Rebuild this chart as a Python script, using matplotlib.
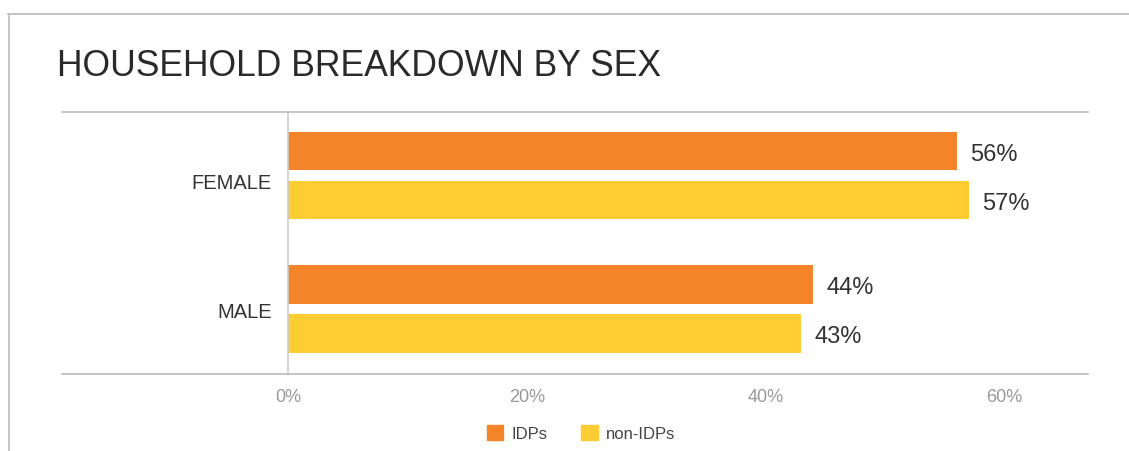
import matplotlib
matplotlib.use("Agg")
import matplotlib.pyplot as plt
from matplotlib.lines import Line2D
from matplotlib.patches import Patch
import numpy as np

categories = ["MALE", "FEMALE"]
idps = [44, 56]
non_idps = [43, 57]
series_names = ["IDPs", "non-IDPs"]
tick_values = [0, 20, 40, 60]

orange = "#F4842A"
yellow = "#FDCD33"
line_grey = "#BBBBBB"

W, H = 1129, 452
fig = plt.figure(figsize=(W / 100, H / 100), dpi=100)
plt.rcParams["font.family"] = ["Liberation Sans", "DejaVu Sans"]

# outer frame (top + left edges only)
fig.add_artist(Line2D([8 / W, 1], [1 - 15 / H, 1 - 15 / H], color=line_grey, lw=1.2))
fig.add_artist(Line2D([9 / W, 9 / W], [1 - 15 / H, 0], color=line_grey, lw=1.2))

# horizontal rules above and below the plot
for y in (113, 375):
    fig.add_artist(Line2D([62 / W, 1088 / W], [1 - y / H, 1 - y / H], color=line_grey, lw=1.2))

fig.text(57 / W, 1 - 66 / H, "HOUSEHOLD BREAKDOWN BY SEX", fontsize=25.6,
         color="#2a2a2a", va="center", ha="left")

ax = fig.add_axes([288 / W, 1 - 375 / H, 800 / W, 262 / H])
y = np.arange(len(categories))
h = 0.285
off = 0.1835
b1 = ax.barh(y + off, idps, height=h, color=orange, label=series_names[0])
b2 = ax.barh(y - off, non_idps, height=h, color=yellow, label=series_names[1])

for bars, vals in ((b1, idps), (b2, non_idps)):
    for bar, v in zip(bars, vals):
        ax.annotate(f"{v}%", (v, bar.get_y() + bar.get_height() / 2),
                    xytext=(9.5, -2), textcoords="offset points",
                    ha="left", va="center", fontsize=17, color="#333333")

ax.set_xlim(0, 67)
ax.set_ylim(-0.487, 1.476)
ax.set_xticks(tick_values)
ax.set_xticklabels([f"{t}%" for t in tick_values], color="#999999", fontsize=13)
ax.set_yticks(y - np.array([0, 0.04]))
ax.set_yticklabels(categories, fontsize=14.5, color="#333333")
ax.tick_params(axis="both", length=0)
ax.tick_params(axis="x", pad=10)
ax.tick_params(axis="y", pad=11.5)
for s in ("top", "right", "bottom"):
    ax.spines[s].set_visible(False)
ax.spines["left"].set_color("#CCCCCC")
ax.spines["left"].set_linewidth(1.2)

handles = [Patch(color=orange), Patch(color=yellow)]
fig.legend(handles, series_names, loc="center", bbox_to_anchor=(581 / W, 1 - 434 / H),
           ncol=2, frameon=False, fontsize=12, handlelength=1.0, handleheight=1.0,
           handletextpad=0.5, columnspacing=2.0, labelcolor="#444444")

fig.savefig("out.png", dpi=100)
